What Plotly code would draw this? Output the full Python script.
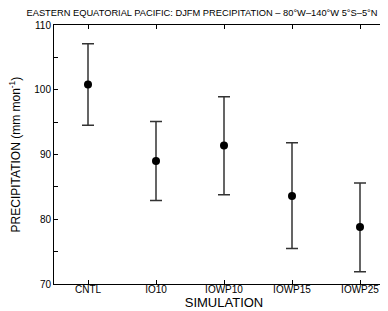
import plotly.graph_objects as go

simulations = ["CNTL", "IO10", "IOWP10", "IOWP15", "IOWP25"]
precip_mean = [100.8, 89.0, 91.4, 83.6, 78.8]
precip_upper = [107.1, 95.1, 98.9, 91.8, 85.6]
precip_lower = [94.5, 82.9, 83.8, 75.5, 71.9]

err_plus = [u - m for u, m in zip(precip_upper, precip_mean)]
err_minus = [m - l for m, l in zip(precip_mean, precip_lower)]

FONT = "Liberation Sans, Arial, Helvetica, sans-serif"

fig = go.Figure(go.Scatter(
    x=simulations, y=precip_mean, mode="markers",
    marker=dict(color="black", size=8),
    error_y=dict(type="data", symmetric=False, array=err_plus, arrayminus=err_minus,
                 color="#333333", thickness=1.5, width=6),
    showlegend=False,
))

fig.update_layout(
    width=388, height=311,
    margin=dict(l=46, r=2, t=17, b=35),
    paper_bgcolor="white", plot_bgcolor="white",
    font=dict(family=FONT, color="black"),
    title=dict(text="EASTERN EQUATORIAL PACIFIC: DJFM PRECIPITATION – 80°W–140°W 5°S–5°N",
               font=dict(size=9.3, family=FONT, color="black"),
               x=0.5, xref="container", xanchor="center", y=0.995, yanchor="top"),
)

fig.add_annotation(
    text="PRECIPITATION (mm mon<sup>-1</sup>)", textangle=-90,
    xref="paper", yref="paper", x=-0.115, y=0.5, xanchor="center", yanchor="middle",
    showarrow=False, font=dict(size=12, family=FONT, color="black"),
)

fig.update_xaxes(
    type="category", range=[-0.5, 4.5],
    showline=True, linecolor="black", linewidth=1, mirror="ticks",
    ticks="inside", ticklen=4, tickcolor="black",
    tickfont=dict(size=10), showgrid=False, zeroline=False,
    ticklabelstandoff=-4,
    title=dict(text="SIMULATION", font=dict(size=13), standoff=0),
)
fig.update_yaxes(
    range=[70, 110], dtick=10, tick0=70,
    showline=True, linecolor="black", linewidth=1, mirror="allticks",
    ticks="inside", ticklen=4, tickcolor="black",
    minor=dict(ticks="inside", dtick=5, ticklen=4, tickcolor="black"),
    tickfont=dict(size=10), showgrid=False, zeroline=False,
)

fig.write_html("out.html")
